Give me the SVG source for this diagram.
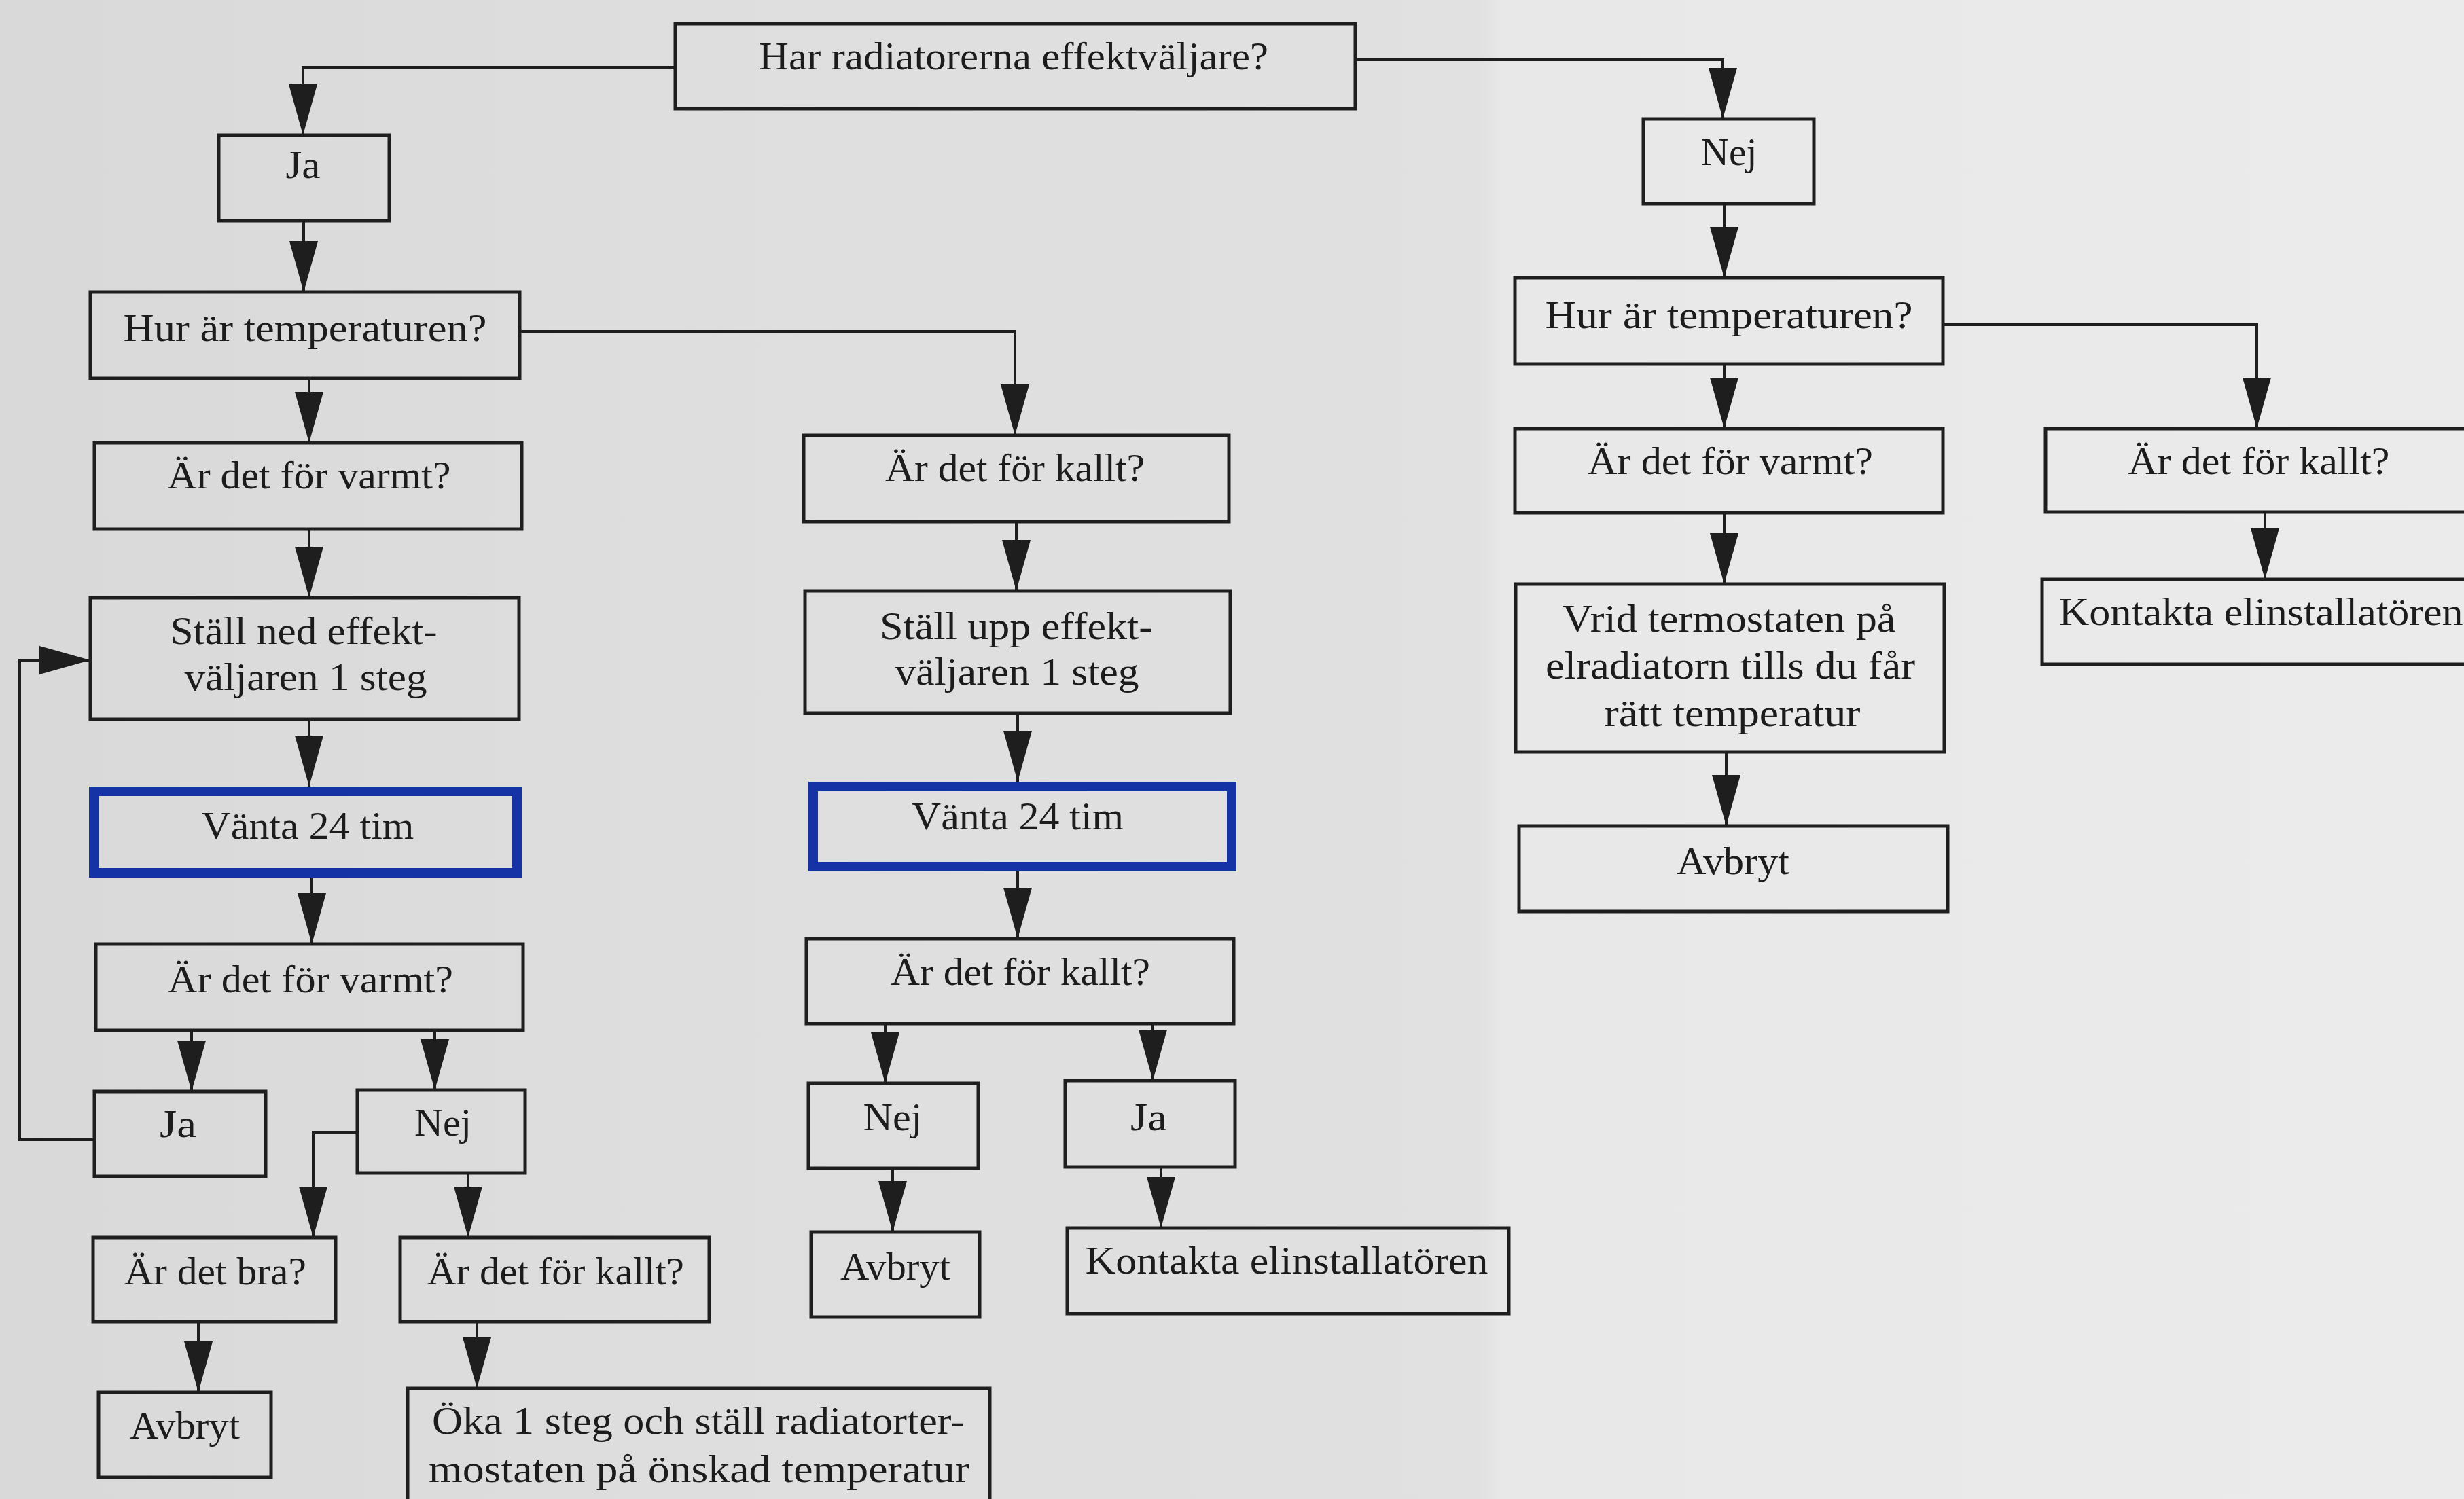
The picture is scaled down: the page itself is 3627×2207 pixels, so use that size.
<svg xmlns="http://www.w3.org/2000/svg" width="3627" height="2207" viewBox="0 0 3627 2207">
<style>
.box{fill:none;stroke:#1e1e1e;stroke-width:5}
.hl{fill:none;stroke:#1633a6;stroke-width:14}
.t{font-family:"Liberation Serif","Times New Roman",serif;font-size:56px;fill:#1c1c1c;text-anchor:middle}
.c{fill:none;stroke:#1e1e1e;stroke-width:4;marker-end:url(#ah)}
</style>
<defs>
<marker id="ah" markerUnits="userSpaceOnUse" markerWidth="76" markerHeight="42" refX="75" refY="21" orient="auto">
<path d="M0,0 L75,21 L0,42 Z" fill="#1e1e1e"/>
</marker>
<linearGradient id="bg" x1="0" y1="0" x2="1" y2="0">
<stop offset="0" stop-color="#d9d9d9"/>
<stop offset="0.3" stop-color="#dedede"/>
<stop offset="0.6" stop-color="#e1e1e1"/>
<stop offset="0.61" stop-color="#e8e8e8"/>
<stop offset="1" stop-color="#ebebeb"/>
</linearGradient>
</defs>
<rect x="0" y="0" width="3627" height="2207" fill="url(#bg)"/>

<g id="connectors">
<path class="c" d="M994,99 H446 V199"/>
<path class="c" d="M1995,88 H2536 V175"/>
<path class="c" d="M447,325 V430"/>
<path class="c" d="M455,557 V652"/>
<path class="c" d="M765,488 H1494 V641"/>
<path class="c" d="M455,779 V880"/>
<path class="c" d="M455,1059 V1158"/>
<path class="c" d="M459,1292 V1390"/>
<path class="c" d="M282,1517 V1607"/>
<path class="c" d="M640,1517 V1605"/>
<path class="c" d="M139,1678 H29 V972 H133"/>
<path class="c" d="M526,1667 H461 V1822"/>
<path class="c" d="M689,1727 V1822"/>
<path class="c" d="M292,1946 V2050"/>
<path class="c" d="M702,1946 V2044"/>
<path class="c" d="M1496,768 V870"/>
<path class="c" d="M1498,1050 V1151"/>
<path class="c" d="M1498,1283 V1382"/>
<path class="c" d="M1303,1507 V1595"/>
<path class="c" d="M1697,1507 V1591"/>
<path class="c" d="M1314,1720 V1814"/>
<path class="c" d="M1709,1718 V1808"/>
<path class="c" d="M2538,300 V409"/>
<path class="c" d="M2538,536 V631"/>
<path class="c" d="M2860,478 H3322 V631"/>
<path class="c" d="M2538,755 V860"/>
<path class="c" d="M2541,1107 V1216"/>
<path class="c" d="M3334,754 V853"/>
</g>

<g id="n_top"><rect class="box" x="994" y="35" width="1001" height="125"/>
<text class="t" x="1492" y="102" textLength="750" lengthAdjust="spacingAndGlyphs">Har radiatorerna effektväljare?</text></g>

<g id="n_ja1"><rect class="box" x="322" y="199" width="251" height="126"/>
<text class="t" x="446" y="262" textLength="51" lengthAdjust="spacingAndGlyphs">Ja</text></g>

<g id="n_hur1"><rect class="box" x="133" y="430" width="632" height="127"/>
<text class="t" x="449" y="502" textLength="535" lengthAdjust="spacingAndGlyphs">Hur är temperaturen?</text></g>

<g id="n_varmt1"><rect class="box" x="139" y="652" width="629" height="127"/>
<text class="t" x="455" y="719" textLength="417" lengthAdjust="spacingAndGlyphs">Är det för varmt?</text></g>

<g id="n_stall_ned"><rect class="box" x="133" y="880" width="631" height="179"/>
<text class="t" x="447" y="948" textLength="393" lengthAdjust="spacingAndGlyphs">Ställ ned effekt-</text>
<text class="t" x="450" y="1016" textLength="357" lengthAdjust="spacingAndGlyphs">väljaren 1 steg</text></g>

<g id="n_vanta1"><rect class="hl" x="138" y="1165" width="623" height="120"/>
<text class="t" x="453" y="1235" textLength="313" lengthAdjust="spacingAndGlyphs">Vänta 24 tim</text></g>

<g id="n_varmt2"><rect class="box" x="141" y="1390" width="629" height="127"/>
<text class="t" x="457" y="1461" textLength="420" lengthAdjust="spacingAndGlyphs">Är det för varmt?</text></g>

<g id="n_ja2"><rect class="box" x="139" y="1607" width="252" height="125"/>
<text class="t" x="262" y="1674" textLength="54" lengthAdjust="spacingAndGlyphs">Ja</text></g>

<g id="n_nej2"><rect class="box" x="526" y="1605" width="247" height="122"/>
<text class="t" x="652" y="1672" textLength="84" lengthAdjust="spacingAndGlyphs">Nej</text></g>

<g id="n_bra"><rect class="box" x="137" y="1822" width="357" height="124"/>
<text class="t" x="317" y="1891" textLength="268" lengthAdjust="spacingAndGlyphs">Är det bra?</text></g>

<g id="n_kallt_l"><rect class="box" x="589" y="1822" width="455" height="124"/>
<text class="t" x="818" y="1891" textLength="378" lengthAdjust="spacingAndGlyphs">Är det för kallt?</text></g>

<g id="n_avbryt_l"><rect class="box" x="145" y="2050" width="254" height="125"/>
<text class="t" x="272" y="2118" textLength="162" lengthAdjust="spacingAndGlyphs">Avbryt</text></g>

<g id="n_oka"><rect class="box" x="600" y="2044" width="857" height="200"/>
<text class="t" x="1028" y="2111" textLength="784" lengthAdjust="spacingAndGlyphs">Öka 1 steg och ställ radiatorter-</text>
<text class="t" x="1029" y="2182" textLength="796" lengthAdjust="spacingAndGlyphs">mostaten på önskad temperatur</text></g>

<g id="n_kallt_m"><rect class="box" x="1183" y="641" width="626" height="127"/>
<text class="t" x="1494" y="708" textLength="382" lengthAdjust="spacingAndGlyphs">Är det för kallt?</text></g>

<g id="n_stall_upp"><rect class="box" x="1185" y="870" width="626" height="180"/>
<text class="t" x="1496" y="941" textLength="402" lengthAdjust="spacingAndGlyphs">Ställ upp effekt-</text>
<text class="t" x="1497" y="1008" textLength="359" lengthAdjust="spacingAndGlyphs">väljaren 1 steg</text></g>

<g id="n_vanta2"><rect class="hl" x="1197" y="1158" width="616" height="118"/>
<text class="t" x="1498" y="1221" textLength="312" lengthAdjust="spacingAndGlyphs">Vänta 24 tim</text></g>

<g id="n_kallt_m2"><rect class="box" x="1187" y="1382" width="629" height="125"/>
<text class="t" x="1502" y="1450" textLength="382" lengthAdjust="spacingAndGlyphs">Är det för kallt?</text></g>

<g id="n_nej_m"><rect class="box" x="1190" y="1595" width="250" height="125"/>
<text class="t" x="1314" y="1664" textLength="87" lengthAdjust="spacingAndGlyphs">Nej</text></g>

<g id="n_ja_m"><rect class="box" x="1568" y="1591" width="250" height="127"/>
<text class="t" x="1691" y="1664" textLength="54" lengthAdjust="spacingAndGlyphs">Ja</text></g>

<g id="n_avbryt_m"><rect class="box" x="1194" y="1814" width="248" height="125"/>
<text class="t" x="1318" y="1884" textLength="162" lengthAdjust="spacingAndGlyphs">Avbryt</text></g>

<g id="n_kontakta_m"><rect class="box" x="1571" y="1808" width="650" height="126"/>
<text class="t" x="1894" y="1875" textLength="593" lengthAdjust="spacingAndGlyphs">Kontakta elinstallatören</text></g>

<g id="n_nej_r"><rect class="box" x="2419" y="175" width="251" height="125"/>
<text class="t" x="2545" y="243" textLength="83" lengthAdjust="spacingAndGlyphs">Nej</text></g>

<g id="n_hur_r"><rect class="box" x="2230" y="409" width="630" height="127"/>
<text class="t" x="2545" y="483" textLength="541" lengthAdjust="spacingAndGlyphs">Hur är temperaturen?</text></g>

<g id="n_varmt_r"><rect class="box" x="2230" y="631" width="630" height="124"/>
<text class="t" x="2547" y="698" textLength="420" lengthAdjust="spacingAndGlyphs">Är det för varmt?</text></g>

<g id="n_vrid"><rect class="box" x="2231" y="860" width="631" height="247"/>
<text class="t" x="2545" y="930" textLength="491" lengthAdjust="spacingAndGlyphs">Vrid termostaten på</text>
<text class="t" x="2547" y="999" textLength="544" lengthAdjust="spacingAndGlyphs">elradiatorn tills du får</text>
<text class="t" x="2550" y="1069" textLength="377" lengthAdjust="spacingAndGlyphs">rätt temperatur</text></g>

<g id="n_avbryt_r"><rect class="box" x="2236" y="1216" width="631" height="126"/>
<text class="t" x="2551" y="1287" textLength="166" lengthAdjust="spacingAndGlyphs">Avbryt</text></g>

<g id="n_kallt_fr"><rect class="box" x="3011" y="631" width="640" height="123"/>
<text class="t" x="3325" y="698" textLength="385" lengthAdjust="spacingAndGlyphs">Är det för kallt?</text></g>

<g id="n_kontakta_fr"><rect class="box" x="3006" y="853" width="645" height="125"/>
<text class="t" x="3328" y="920" textLength="595" lengthAdjust="spacingAndGlyphs">Kontakta elinstallatören</text></g>
</svg>
